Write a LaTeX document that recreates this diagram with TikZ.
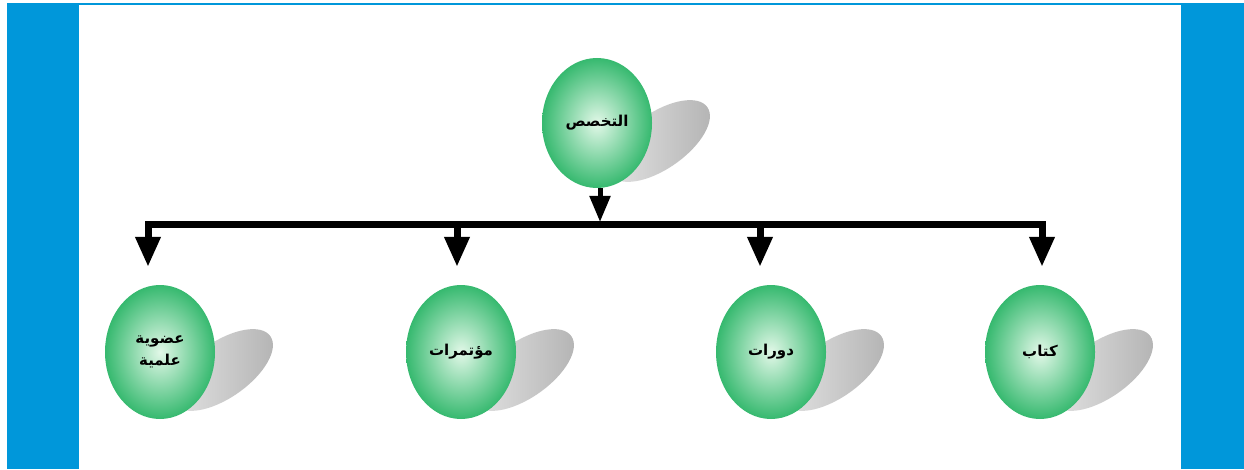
\documentclass[tikz,border=0pt]{standalone}
\usepackage{fontspec}
\usepackage{tikz}
\usetikzlibrary{shapes.geometric,arrows.meta}
\TeXXeTstate=1
\newfontfamily\arabicfont[Script=Arabic]{DejaVu Sans}
\definecolor{framecolor}{HTML}{0097DA}
\definecolor{ballcolor}{HTML}{36B96F}
\definecolor{ballcentre}{HTML}{E2F8E8}
\tikzset{
  ball/.style={ellipse,minimum width=110pt,minimum height=134pt,inner sep=0pt,
    inner color=ballcentre,outer color=ballcolor,align=center,
    font=\arabicfont\bfseries\fontsize{15}{22}\selectfont},
  ballshadow/.style={ellipse,minimum width=118pt,minimum height=56pt,
    left color=gray!20,right color=gray!60},
  link/.style={line width=7pt,>={Triangle[length=30pt,width=24pt]}},
  toplink/.style={line width=5pt,->,>={Triangle[length=26pt,width=20pt]}}
}

\begin{document}
\begin{tikzpicture}[x=1pt,y=1pt]
\useasboundingbox (0,0) rectangle (1244,469);
\fill[framecolor] (7,0) rectangle (79,466);
\fill[framecolor] (1181,0) rectangle (1244,466);
\draw[framecolor,line width=1.5pt] (7,465) -- (1244,465);

\foreach \x/\y in {597/346,160/117,461/117,771/117,1040/117}
  \node[ballshadow,rotate=35] at (\x+62,\y-18) {};

\node[ball,minimum height=130pt] (spec) at (597,346) {\beginR التخصص\endR};
\node[ball] (memb) at (160,117) {\beginR عضوية\endR\\\beginR علمية\endR};
\node[ball] (conf) at (461,117) {\beginR مؤتمرات\endR};
\node[ball] (crs) at (771,117) {\beginR دورات\endR};
\node[ball] (book) at (1040,117) {\beginR كتاب\endR};

\coordinate (j1) at (148,244);
\coordinate (j2) at (457,244);
\coordinate (j3) at (760,244);
\coordinate (j4) at (1042,244);

\draw[link,<->,shorten <=18pt,shorten >=18pt]
  (j1 |- memb.north) -- (j1) -- (j4) -- (j4 |- book.north);
\draw[link,->,shorten >=18pt] (j2) -- (j2 |- conf.north);
\draw[link,->,shorten >=18pt] (j3) -- (j3 |- crs.north);
\draw[toplink,shorten >=3pt] ([xshift=3pt]spec.south) -- ([xshift=3pt]spec.south |- j1);
\end{tikzpicture}
\end{document}
